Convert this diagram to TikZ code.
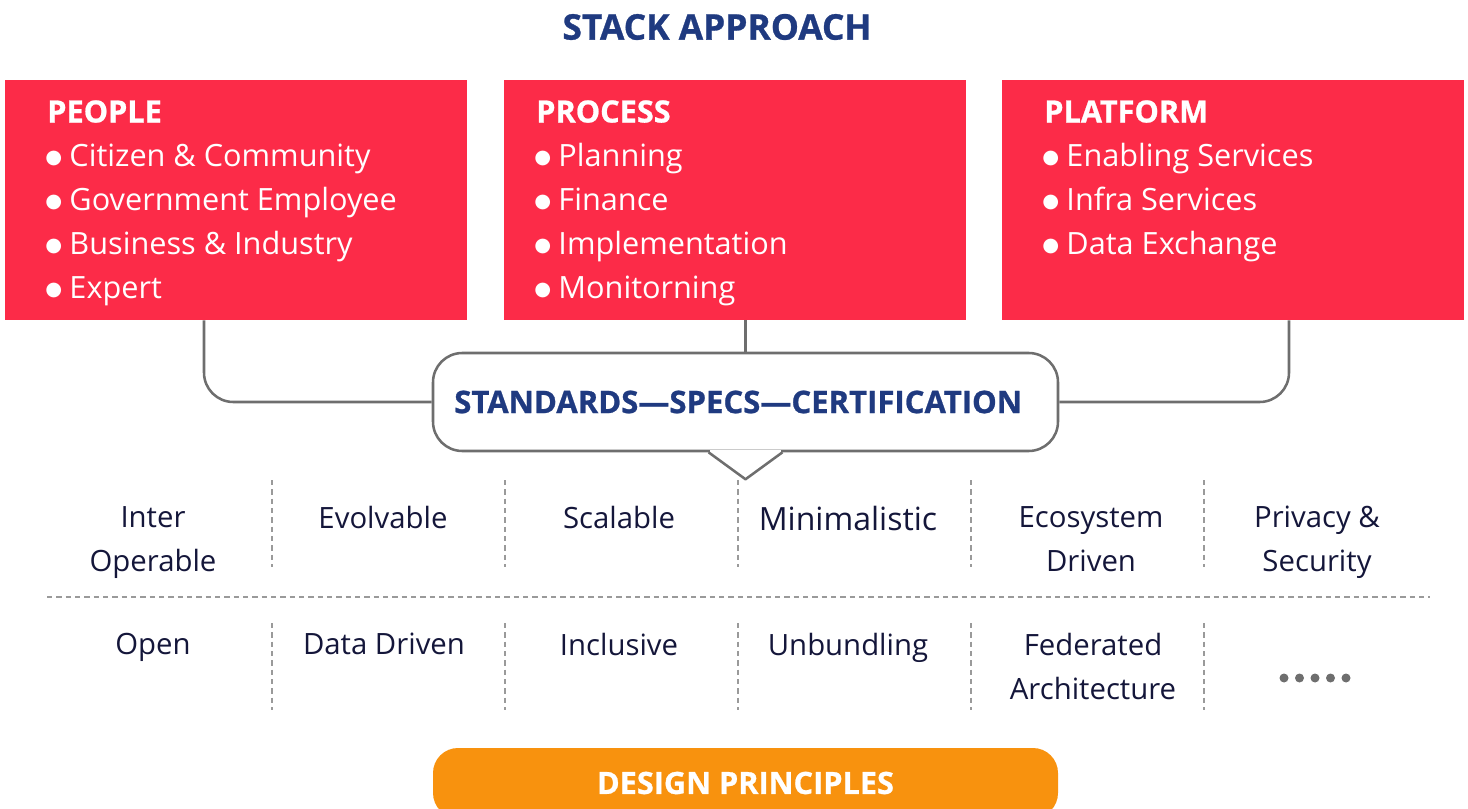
\documentclass[tikz,border=0pt]{standalone}
\usepackage{fontspec}
\setmainfont{Open Sans}
\newfontfamily\heavyfont[BoldFeatures={FakeBold=0.8}]{Open Sans}
\newfontfamily\symfont{DejaVu Sans}
\usetikzlibrary{positioning}
\usetikzlibrary{calc}

\definecolor{stackred}{HTML}{FC2B48}
\definecolor{stacknavy}{HTML}{1F3A80}
\definecolor{stackorange}{HTML}{F8920E}
\definecolor{linkgray}{HTML}{6E6E6E}
\definecolor{sepgray}{HTML}{9A9A9A}
\definecolor{inkdark}{HTML}{14163A}

\newcommand{\bul}{\hspace*{-1.5pt}\raisebox{2pt}{\symfont\fontsize{14.5}{15}\selectfont ●}\hspace{5.5pt}}

\begin{document}
\begin{tikzpicture}[x=0.75pt, y=-0.75pt,
  redbox/.style={fill=stackred, minimum width=346.5pt, minimum height=180pt, inner sep=0pt},
  boxtext/.style={anchor=north west, inner sep=0pt, align=left, text=white,
    font=\fontsize{23}{33}\selectfont},
  link/.style={draw=linkgray, line width=1.9pt, rounded corners=22pt},
  sep/.style={draw=sepgray, line width=0.9pt, dash pattern=on 4pt off 3pt},
  cell/.style={anchor=north, inner sep=0pt, align=center, text=inkdark,
    font=\fontsize{22}{33}\selectfont},
  headline/.style={text=stacknavy, font=\heavyfont\bfseries\fontsize{26.5}{30}\selectfont}]

  \useasboundingbox (0,0) rectangle (1468,809);

  % title
  \node[headline] (title) at (717,27) {STACK APPROACH};

  % the three stacks
  \node[redbox] (people) at (236,200) {};
  \node[redbox] (process) at (734.5,200) {};
  \node[redbox] (platform) at (1232.5,200) {};

  \node[boxtext] (peopleT) at (47,100)
    {{\heavyfont\bfseries PEOPLE}\\ \bul Citizen \& Community\\ \bul Government Employee\\
     \bul Business \& Industry\\ \bul Expert};
  \node[boxtext] (processT) at (536,100)
    {{\heavyfont\bfseries PROCESS}\\ \bul Planning\\ \bul Finance\\ \bul Implementation\\
     \bul Monitorning};
  \node[boxtext] (platformT) at (1044,100)
    {{\heavyfont\bfseries PLATFORM}\\ \bul Enabling Services\\ \bul Infra Services\\
     \bul Data Exchange};

  % speech bubble
  \node[draw=linkgray, line width=1.9pt, fill=white, rounded corners=22pt,
        minimum width=468.75pt, minimum height=73.5pt, inner sep=0pt,
        text=stacknavy, font=\heavyfont\bfseries\fontsize{23.3}{27}\selectfont]
    (spec) at (745.5,402) {\hspace*{-11pt}STANDARDS—SPECS—CERTIFICATION};
  \fill[white] ($(spec.south)+(-35.5,-2.5)$) rectangle ($(spec.south)+(35.5,2.5)$);
  \fill[white] ($(spec.south)+(-36,0)$) -- ($(spec.south)+(36,0)$)
    -- ($(spec.south)+(0,27)$) -- cycle;
  \draw[linkgray, line width=1.9pt, line join=round] ($(spec.south)+(-37,0)$)
    -- ($(spec.south)+(0,27)$) -- ($(spec.south)+(37,0)$);

  % connectors
  \draw[link] ($(people.south)+(-32,0)$) |- (spec.west);
  \draw[link] (spec.north) -- (spec.north |- process.south);
  \draw[link] ($(platform.south)+(56.5,0)$) |- (spec.east);

  % principles grid
  \foreach \x in {272,505,738,971,1204} {
    \draw[sep] (\x,480) -- (\x,567);
    \draw[sep] (\x,623) -- (\x,710);
  }
  \draw[sep] (47,597) -- (1430,597);

  \foreach \n/\x/\t in {1/153/{Inter\\Operable}, 2/383/{Evolvable},
      3/619/{Scalable}, 4/848/{{\fontsize{24}{33}\selectfont Minimalistic}},
      5/1091/{Ecosystem\\Driven}, 6/1317/{Privacy \&\\Security}}
    \node[cell] (top\n) at (\x,506) {\t};

  \foreach \n/\x/\t in {1/153/{Open}, 2/384/{Data Driven}, 3/619/{Inclusive},
      4/848/{Unbundling}, 5/1093/{Federated\\Architecture}}
    \node[cell] (bot\n) at (\x,633) {\t};

  \foreach \i in {0,...,4}
    \fill[linkgray] (1284+15.5*\i,678) circle (4.5);

  % design principles bar
  \node[fill=stackorange, rounded corners=18.75pt, minimum width=468.75pt,
        minimum height=52.5pt, inner sep=0pt, text=white,
        font=\heavyfont\bfseries\fontsize{23}{26}\selectfont]
    (design) at (745.5,783) {DESIGN PRINCIPLES};
\end{tikzpicture}
\end{document}
